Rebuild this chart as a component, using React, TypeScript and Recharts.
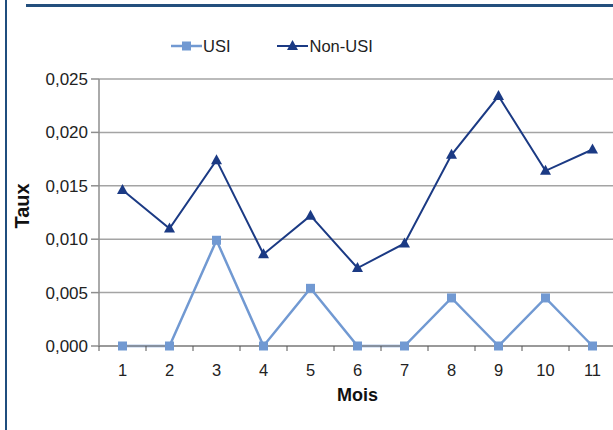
import React from 'react';
import { LineChart, Line, XAxis, YAxis, CartesianGrid, Label } from 'recharts';

// mois 1..11
const MOIS = [1, 2, 3, 4, 5, 6, 7, 8, 9, 10, 11];
const USI = [0, 0, 0.0099, 0, 0.0054, 0, 0, 0.0045, 0, 0.0045, 0];
const NON_USI = [0.0146, 0.011, 0.0174, 0.0086, 0.0122, 0.0073, 0.0096, 0.0179, 0.0234, 0.0164, 0.0184];
const Y_TICKS = [0, 0.005, 0.01, 0.015, 0.02, 0.025];
// labels on the months, tick marks between them (Excel style)
const X_TICKS = [0.5, 1, 1.5, 2, 2.5, 3, 3.5, 4, 4.5, 5, 5.5, 6, 6.5, 7, 7.5, 8, 8.5, 9, 9.5, 10, 10.5, 11, 11.5];

const USI_COLOR = '#7199d2';
const NON_USI_COLOR = '#1b3a84';
const AXIS_COLOR = '#8e8e8e';
const GRID_COLOR = '#a4a4a4';
const FONT = '"Liberation Sans", Arial, Helvetica, sans-serif';

const data = MOIS.map((m, i) => ({ mois: m, usi: USI[i], nonUsi: NON_USI[i] }));

const fmt = (v: number) => v.toFixed(3).replace('.', ',');

const SquareDot = (props: any) => {
  const { cx, cy, index } = props;
  return <rect key={`sq-${index}`} x={cx - 4.5} y={cy - 4.5} width={9} height={9} fill={USI_COLOR} />;
};

const TriangleDot = (props: any) => {
  const { cx, cy, index } = props;
  return (
    <path
      key={`tr-${index}`}
      d={`M${cx},${cy - 6} L${cx + 5.5},${cy + 4} L${cx - 5.5},${cy + 4} Z`}
      fill={NON_USI_COLOR}
    />
  );
};

const MoisTick = (props: any) => {
  const { x, y, payload } = props;
  const v = payload.value;
  if (Number.isInteger(v)) {
    return (
      <text x={x} y={y + 30} textAnchor="middle" fill="#222" fontSize={16.5} fontFamily={FONT}>
        {v}
      </text>
    );
  }
  return <line x1={x} y1={y} x2={x} y2={y + 5} stroke="#555" strokeWidth={1} />;
};

function LegendBox() {
  const text = { fontFamily: FONT, fontSize: 16.5, color: '#222' };
  return (
    <div style={{ position: 'absolute', top: 36, left: 171, display: 'flex', alignItems: 'center', height: 20 }}>
      <svg width={31} height={20}>
        <line x1={0} y1={10} x2={31} y2={10} stroke={USI_COLOR} strokeWidth={2.5} />
        <rect x={11} y={5.5} width={9} height={9} fill={USI_COLOR} />
      </svg>
      <span style={{ ...text, marginLeft: 1 }}>USI</span>
      <svg width={31} height={20} style={{ marginLeft: 46 }}>
        <line x1={0} y1={10} x2={31} y2={10} stroke={NON_USI_COLOR} strokeWidth={2} />
        <path d="M15.5,4 L21,14 L10,14 Z" fill={NON_USI_COLOR} />
      </svg>
      <span style={{ ...text, marginLeft: 2 }}>Non-USI</span>
    </div>
  );
}

export default function App() {
  return (
    <div
      style={{
        position: 'fixed',
        left: 0,
        top: 0,
        width: 613,
        height: 430,
        overflow: 'hidden',
        background: '#fff',
      }}
    >
      <div style={{ position: 'absolute', left: 5, top: 0, width: 2, height: 430, background: '#1f4e7e' }} />
      <div style={{ position: 'absolute', left: 26, top: 4, width: 600, height: 3, background: '#234f7d' }} />
      <LineChart
        width={630}
        height={430}
        data={data}
        margin={{ top: 79, right: 14, bottom: 54, left: 0 }}
        style={{ fontFamily: FONT }}
      >
        <CartesianGrid vertical={false} stroke={GRID_COLOR} strokeWidth={1.5} />
        <XAxis
          dataKey="mois"
          type="number"
          domain={[0.5, 11.5]}
          ticks={X_TICKS}
          interval={0}
          height={30}
          tickSize={0}
          tickMargin={0}
          tickLine={false}
          tick={MoisTick}
          axisLine={{ stroke: AXIS_COLOR, strokeWidth: 1.5 }}
        >
          <Label value="Mois" position="bottom" offset={12} style={{ fontSize: 18, fontWeight: 'bold', fill: '#111' }} />
        </XAxis>
        <YAxis
          domain={[0, 0.025]}
          ticks={Y_TICKS}
          width={99}
          tickFormatter={fmt}
          tickSize={8}
          tickMargin={3}
          tick={{ fill: '#222', fontSize: 17 }}
          axisLine={{ stroke: AXIS_COLOR, strokeWidth: 1.5 }}
          tickLine={{ stroke: AXIS_COLOR, strokeWidth: 1.5 }}
        >
          <Label
            content={() => (
              <text
                x={22}
                y={206}
                transform="rotate(-90 22 206)"
                textAnchor="middle"
                dominantBaseline="central"
                style={{ fontSize: 20, fontWeight: 'bold', fill: '#111', fontFamily: FONT }}
              >
                Taux
              </text>
            )}
          />
        </YAxis>
        <Line
          dataKey="usi"
          stroke={USI_COLOR}
          strokeWidth={2.5}
          dot={SquareDot}
          activeDot={false}
          isAnimationActive={false}
        />
        <Line
          dataKey="nonUsi"
          stroke={NON_USI_COLOR}
          strokeWidth={2}
          dot={TriangleDot}
          activeDot={false}
          isAnimationActive={false}
        />
      </LineChart>
      <LegendBox />
    </div>
  );
}
